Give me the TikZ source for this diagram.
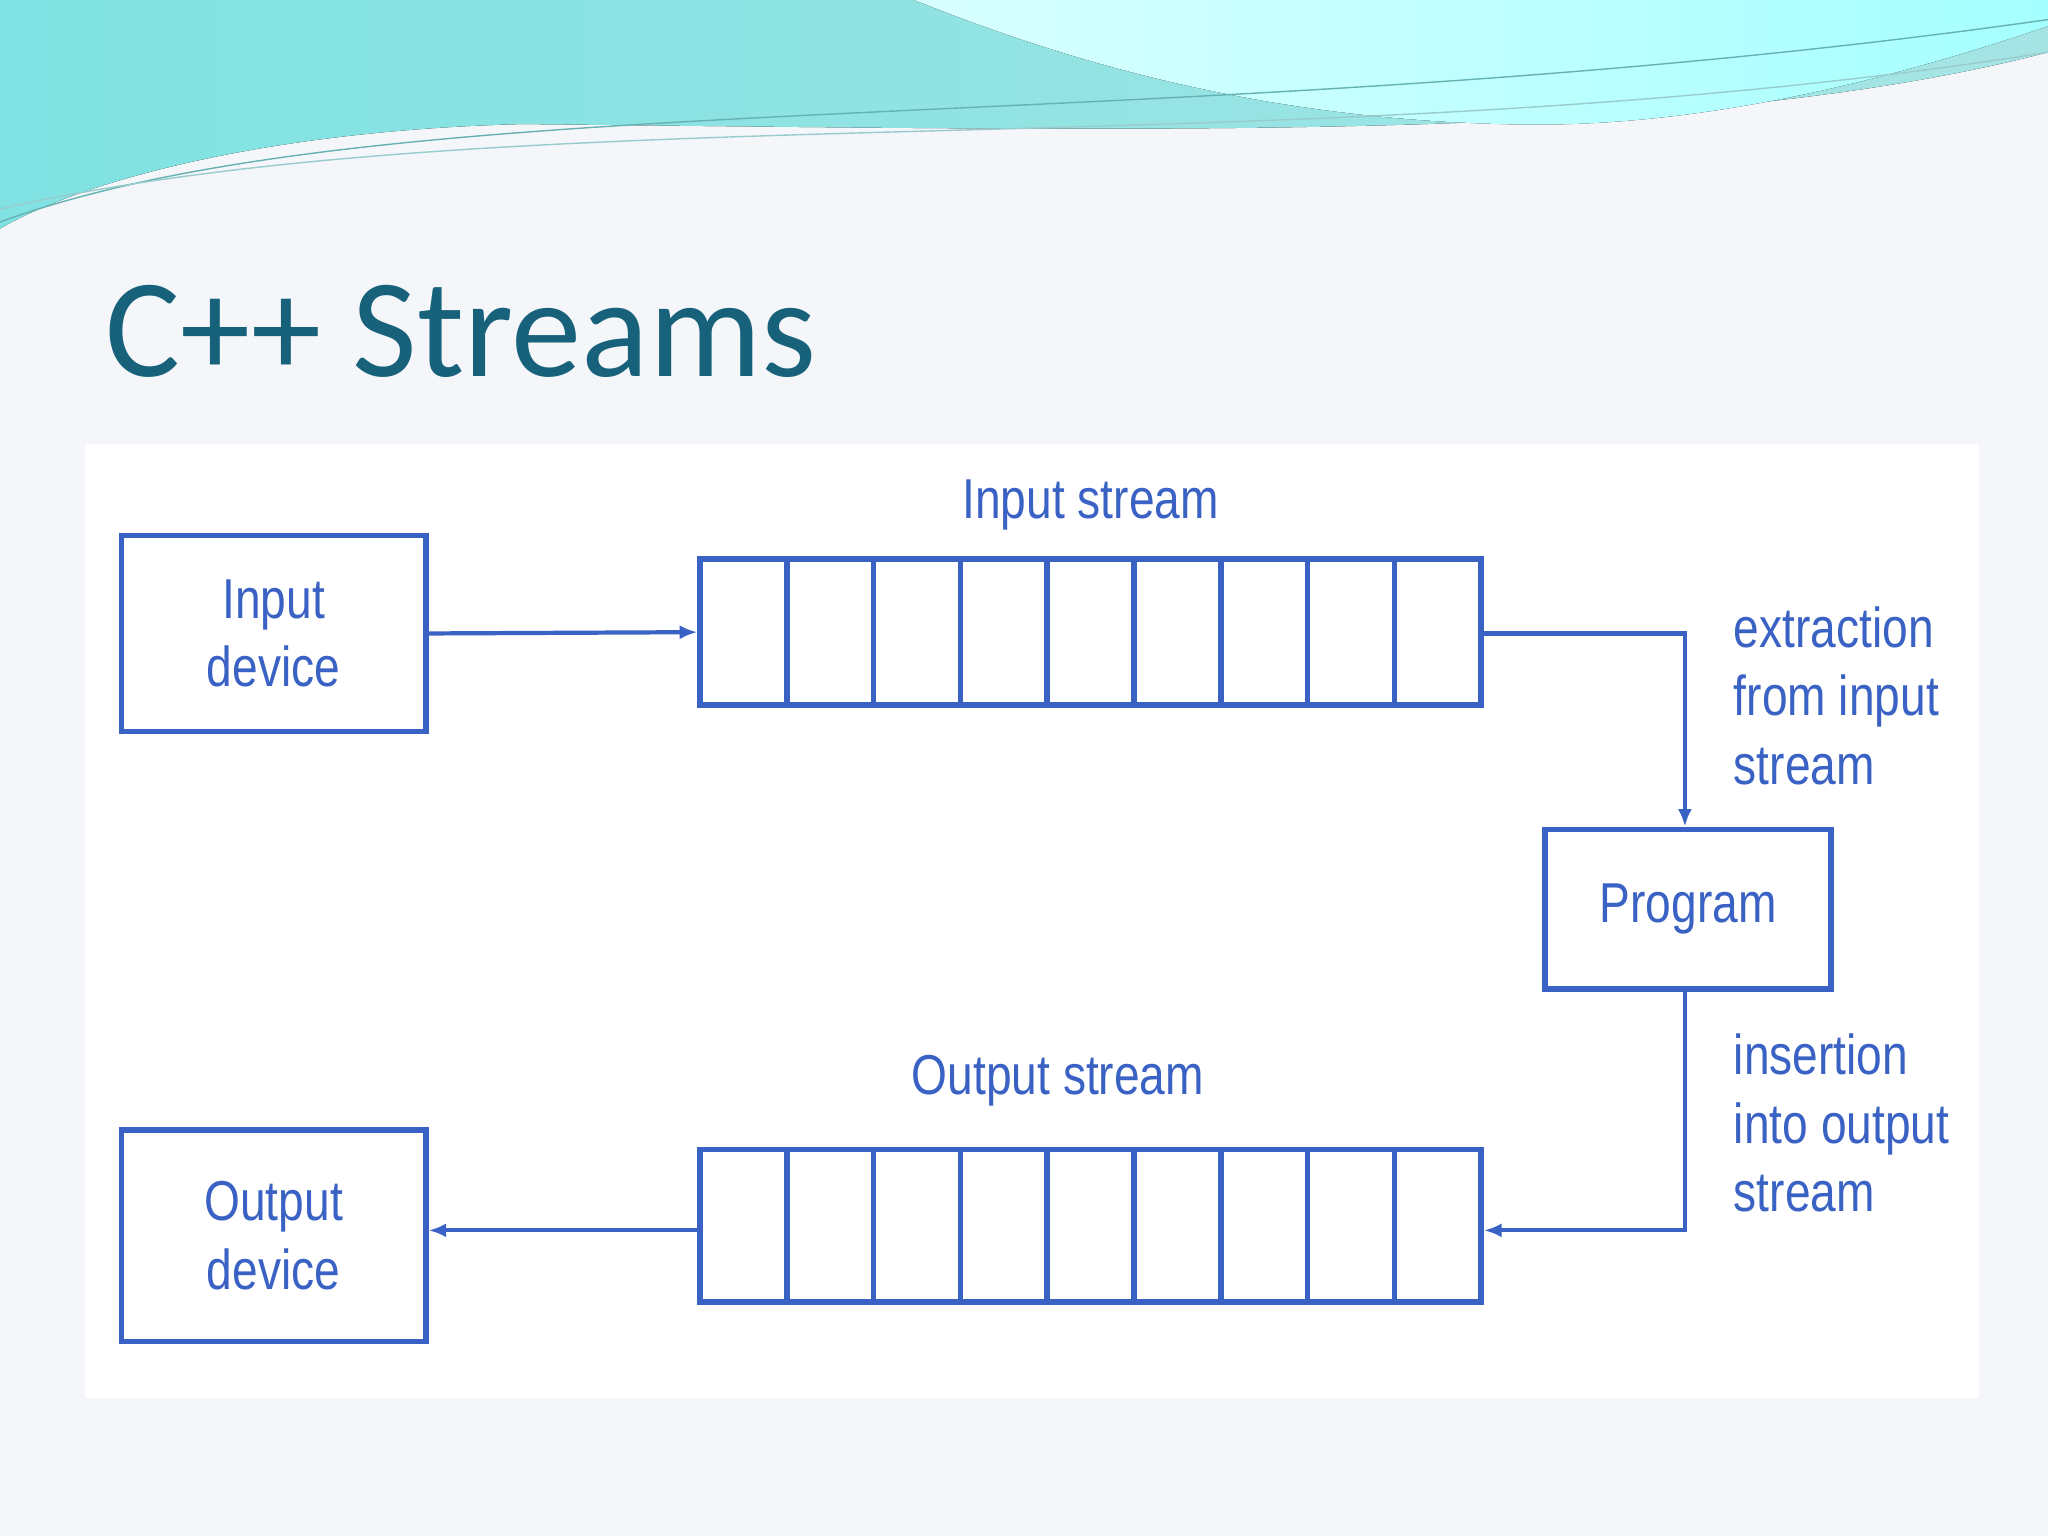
\documentclass[tikz,border=0pt]{standalone}
\usepackage{fontspec}
\setmainfont{Liberation Sans}
\newfontfamily\titlefont{Carlito}
\newfontfamily\diagfont{Liberation Sans}[FakeStretch=0.82]
\usetikzlibrary{positioning,arrows.meta}
\definecolor{diagblue}{HTML}{3A62C4}
\definecolor{titleteal}{HTML}{17627A}
\definecolor{slidebg}{HTML}{F4F6FA}
\begin{document}
\begin{tikzpicture}[x=0.01306cm,y=-0.01306cm,
    box/.style={draw=diagblue, line width=1.6pt, inner sep=0pt},
    lbl/.style={text=diagblue, font=\diagfont\fontsize{16}{19.5}\selectfont, align=left},
    flow/.style={draw=diagblue, line width=1.2pt, -{Latex[length=5pt,width=4pt]}}]
    % background and top wave
    \fill[slidebg] (0,0) rectangle (1568,1176);
    \useasboundingbox (0,0) rectangle (1568,1176);
    \fill[left color=cyan!55!teal!50, right color=cyan!40!teal!35] (0,0) -- (1568,0) -- (1568,40) .. controls (1300,110) and (900,100) .. (400,95) .. controls (200,100) and (60,140) .. (0,175) -- cycle;
    \fill[left color=cyan!15!white, right color=cyan!35!white] (700,0) -- (1568,0) -- (1568,20) .. controls (1450,60) and (1300,100) .. (1150,95) .. controls (950,90) and (800,40) .. (700,0) -- cycle;
    \draw[teal!60, thin] (0,170) .. controls (300,60) and (900,110) .. (1568,15);
    \draw[teal!40, thin] (0,160) .. controls (400,70) and (1000,130) .. (1568,40);
    % title
    \node[anchor=base west, text=titleteal, font=\titlefont\fontsize{40}{46}\selectfont, inner sep=0pt] (title) at (80,288) {C++ Streams};
    % diagram panel
    \fill[white] (65,340) rectangle (1515,1070);
    \node[box, minimum width=233*0.01306cm, minimum height=150*0.01306cm, lbl, align=center] (indev) at (209.5,485) {Input\\device};
    \node[box, minimum width=233*0.01306cm, minimum height=162*0.01306cm, lbl, align=center] (outdev) at (209.5,946) {Output\\device};
    \node[box, minimum width=219*0.01306cm, minimum height=122*0.01306cm, lbl] (prog) at (1292.5,696) {Program};
    \node[box, minimum width=598*0.01306cm, minimum height=112*0.01306cm] (instream) at (835,484) {};
    \node[box, minimum width=598*0.01306cm, minimum height=117*0.01306cm] (outstream) at (835,938.5) {};
    \foreach \i in {1,...,8} {
        \draw[diagblue, line width=1.6pt] (536+\i*66.44,428) -- (536+\i*66.44,540);
        \draw[diagblue, line width=1.6pt] (536+\i*66.44,880) -- (536+\i*66.44,997);
    }
    \node[lbl, above=4pt of instream] (inlbl) {Input stream};
    \node[lbl, above=8pt of outstream, xshift=-25*0.01306cm] (outlbl) {Output stream};
    \node[lbl, anchor=north west] (extr) at (1318,455) {extraction\\from input\\stream};
    \node[lbl, anchor=north west] (ins) at (1318,782) {insertion\\into output\\stream};
    % connectors
    \coordinate (incorner) at (1290,485);
    \coordinate (outcorner) at (1290,942);
    \draw[flow] (indev.east) -- (instream.west);
    \draw[flow] (instream.east |- incorner) -- (incorner) -- (prog.north -| incorner);
    \draw[flow] (prog.south -| outcorner) -- (outcorner) -- (outstream.east |- outcorner);
    \draw[flow] (outstream.west |- outcorner) -- (outdev.east |- outcorner);
\end{tikzpicture}
\end{document}
